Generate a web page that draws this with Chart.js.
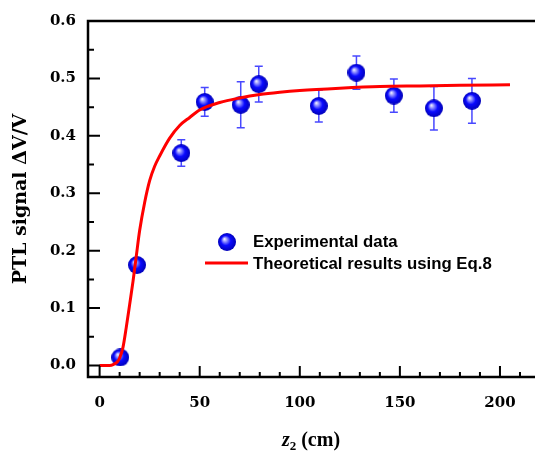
<!DOCTYPE html>
<html>
<head>
<meta charset="utf-8">
<script src="https://cdn.jsdelivr.net/npm/chart.js@4.4.1/dist/chart.umd.min.js"></script>
<style>
    html, body { margin: 0; padding: 0; background: #fff; }
    #wrap { width: 535px; height: 454px; position: relative; }
</style>
</head>
<body>
<div id="wrap"><canvas id="myChart"></canvas></div>
<script>
// experimental points
var expX = [10.3, 18.7, 40.8, 52.5, 70.5, 79.5, 109.5, 128.3, 147, 167, 186];
var expY = [0.014, 0.175, 0.370, 0.459, 0.454, 0.490, 0.452, 0.510, 0.470, 0.448, 0.461];
var expErr = [0, 0, 0.023, 0.025, 0.040, 0.031, 0.028, 0.029, 0.029, 0.038, 0.039];

// theoretical curve (Eq.8)
var theoX = [0, 5, 7, 9, 10, 11.7, 13.3, 15, 16.7, 18.3, 20, 22.5, 25, 27.5, 30, 35, 40, 45, 50, 60, 70, 80, 90, 100, 120, 140, 160, 180, 205];
var theoY = [0, 0, 0.002, 0.007, 0.013, 0.032, 0.066, 0.106, 0.147, 0.19, 0.235, 0.284, 0.322, 0.347, 0.365, 0.396, 0.418, 0.432, 0.445, 0.458, 0.466, 0.472, 0.476, 0.479, 0.483, 0.486, 0.487, 0.488, 0.489];

var xTicks = [0, 50, 100, 150, 200];
var yTicks = [0, 0.1, 0.2, 0.3, 0.4, 0.5, 0.6];
var yTickLabels = ['0.0', '0.1', '0.2', '0.3', '0.4', '0.5', '0.6'];

var serif = '"Liberation Serif", "Times New Roman", serif';
var wideSerif = '"DejaVu Serif", serif';
var sans = '"Liberation Sans", Arial, sans-serif';

// blue shiny ball used as marker
function makeBall(r) {
    var c = document.createElement('canvas');
    c.width = r * 2;
    c.height = r * 2;
    var g = c.getContext('2d');
    var grad = g.createRadialGradient(r * 0.7, r * 0.65, 0, r, r, r);
    grad.addColorStop(0, '#ffffff');
    grad.addColorStop(0.22, '#9a9aff');
    grad.addColorStop(0.55, '#0a0aff');
    grad.addColorStop(1, '#0000b8');
    g.fillStyle = grad;
    g.beginPath();
    g.arc(r, r, r, 0, Math.PI * 2);
    g.fill();
    return c;
}
var ball = makeBall(9);

var expData = expX.map(function (x, i) { return { x: x, y: expY[i] }; });
var theoData = theoX.map(function (x, i) { return { x: x, y: theoY[i] }; });

// error bars, drawn under the datasets
var errorBars = {
    id: 'errorBars',
    beforeDatasetsDraw: function (chart) {
        var ctx = chart.ctx;
        var xs = chart.scales.x, ys = chart.scales.y;
        ctx.save();
        ctx.strokeStyle = 'rgba(40,40,255,0.85)';
        ctx.lineWidth = 1.5;
        for (var i = 0; i < expX.length; i++) {
            if (!expErr[i]) continue;
            var px = xs.getPixelForValue(expX[i]);
            var top = ys.getPixelForValue(expY[i] + expErr[i]);
            var bot = ys.getPixelForValue(expY[i] - expErr[i]);
            ctx.beginPath();
            ctx.moveTo(px, top); ctx.lineTo(px, bot);
            ctx.moveTo(px - 4, top); ctx.lineTo(px + 4, top);
            ctx.moveTo(px - 4, bot); ctx.lineTo(px + 4, bot);
            ctx.stroke();
        }
        ctx.restore();
    }
};

// frame, inward ticks, legend and x title
var frame = {
    id: 'frame',
    afterDraw: function (chart) {
        var ctx = chart.ctx;
        var a = chart.chartArea;
        var xs = chart.scales.x, ys = chart.scales.y;
        ctx.save();
        ctx.strokeStyle = '#000';
        ctx.lineWidth = 2.5;
        ctx.beginPath();
        ctx.moveTo(a.right + 2, a.top);
        ctx.lineTo(a.left, a.top);
        ctx.lineTo(a.left, a.bottom);
        ctx.lineTo(a.right + 2, a.bottom);
        ctx.stroke();

        ctx.lineWidth = 2;
        ctx.beginPath();
        var v, p, len;
        for (v = 0; v <= 210; v += 10) {
            p = xs.getPixelForValue(v);
            len = (v % 50 === 0) ? 11 : 5;
            ctx.moveTo(p, a.bottom);
            ctx.lineTo(p, a.bottom - len);
        }
        for (var k = 0; k <= 12; k++) {
            p = ys.getPixelForValue(k * 0.05);
            len = (k % 2 === 0) ? 12 : 6;
            ctx.moveTo(a.left, p);
            ctx.lineTo(a.left + len, p);
        }
        ctx.stroke();

        // legend
        ctx.drawImage(ball, 227 - 9, 242 - 9);
        ctx.strokeStyle = '#ff0000';
        ctx.lineWidth = 3;
        ctx.beginPath();
        ctx.moveTo(205, 263);
        ctx.lineTo(248, 263);
        ctx.stroke();
        ctx.fillStyle = '#000';
        ctx.font = 'bold 16.8px ' + sans;
        ctx.textBaseline = 'middle';
        ctx.textAlign = 'left';
        ctx.fillText('Experimental data', 253, 242);
        ctx.fillText('Theoretical results using Eq.8', 253, 264);

        // x title: italic z with subscript 2
        ctx.textBaseline = 'alphabetic';
        var cx = (a.left + a.right) / 2;
        var f1 = 'italic bold 20px ' + serif;
        var f2 = 'bold 13px ' + serif;
        var f3 = 'bold 20px ' + serif;
        ctx.font = f1; var w1 = ctx.measureText('z').width;
        ctx.font = f2; var w2 = ctx.measureText('2').width;
        ctx.font = f3; var w3 = ctx.measureText(' (cm)').width;
        var x0 = cx - (w1 + w2 + w3) / 2;
        var base = 446;
        ctx.font = f1; ctx.fillText('z', x0, base);
        ctx.font = f2; ctx.fillText('2', x0 + w1, base + 4);
        ctx.font = f3; ctx.fillText(' (cm)', x0 + w1 + w2, base);
        ctx.restore();
    }
};

var ctx = document.getElementById('myChart');
var myChart = new Chart(ctx, {
    type: 'scatter',
    data: {
        datasets: [
            {
                label: 'Experimental data',
                data: expData,
                pointStyle: ball,
                pointRadius: 9,
                order: 2
            },
            {
                label: 'Theoretical results using Eq.8',
                data: theoData,
                showLine: true,
                borderColor: '#ff0000',
                borderWidth: 3,
                pointRadius: 0,
                cubicInterpolationMode: 'monotone',
                order: 1
            }
        ]
    },
    options: {
        responsive: true,
        maintainAspectRatio: false,
        animation: false,
        layout: { autoPadding: false, padding: { top: 17, right: 1, left: 0, bottom: 0 } },
        plugins: {
            legend: { display: false },
            tooltip: { enabled: false }
        },
        scales: {
            x: {
                type: 'linear',
                min: -5.8,
                max: 217,
                grid: { display: false, drawTicks: false },
                border: { display: false },
                afterBuildTicks: function (s) {
                    s.ticks = xTicks.map(function (v) { return { value: v }; });
                },
                afterFit: function (s) { s.height = 77; },
                ticks: {
                    autoSkip: false,
                    maxRotation: 0,
                    padding: 17,
                    color: '#000',
                    font: { family: wideSerif, size: 15, weight: 'bold' }
                }
            },
            y: {
                type: 'linear',
                min: -0.02,
                max: 0.6,
                grid: { display: false, drawTicks: false },
                border: { display: false },
                afterBuildTicks: function (s) {
                    s.ticks = yTicks.map(function (v) { return { value: v }; });
                },
                afterFit: function (s) { s.width = 88; },
                ticks: {
                    autoSkip: false,
                    padding: 12,
                    color: '#000',
                    font: { family: wideSerif, size: 15, weight: 'bold' },
                    callback: function (v, i) { return yTickLabels[i]; }
                },
                title: {
                    display: true,
                    text: 'PTL signal \u0394V/V',
                    color: '#000',
                    padding: { top: 10, bottom: 0 },
                    font: { family: wideSerif, size: 19, weight: 'bold' }
                }
            }
        }
    },
    plugins: [errorBars, frame]
});
</script>
</body>
</html>
